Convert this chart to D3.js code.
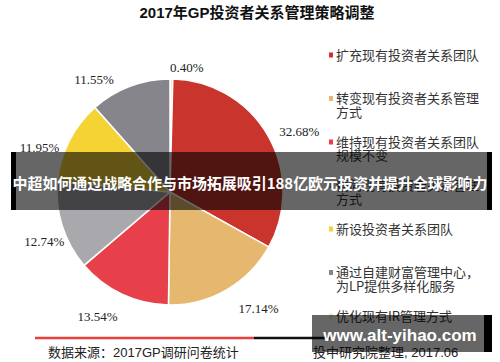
<!DOCTYPE html>
<html>
<head>
<meta charset="utf-8">
<script src="https://cdn.jsdelivr.net/npm/d3@7"></script>
<style>
  body { margin: 0; background: #fff; }
  svg { display: block; }
</style>
</head>
<body>
<div id="chart"></div>
<script>
// GP investor relations strategy pie
// slice order clockwise from 12 o'clock
var categories = [
  "优化现有IR管理方式",
  "扩充现有投资者关系团队",
  "转变现有投资者关系管理方式",
  "维持现有投资者关系团队规模不变",
  "精简现有投资者关系管理方式",
  "新设投资者关系团队",
  "通过自建财富管理中心，为LP提供多样化服务"
];
var values = [0.40, 32.68, 17.14, 13.54, 12.74, 11.95, 11.55];
var colors = ["#f4e8c6", "#c9342c", "#e6b86f", "#e8404a", "#a8a8ad", "#f5d334", "#85858b"];
// legend order (top to bottom)
var legendNames = categories.slice(1).concat(categories[0]);

var titleText = "2017年GP投资者关系管理策略调整";
var sourceLeft = "数据来源：2017GP调研问卷统计";
var sourceRight = "投中研究院整理, 2017.06";
var bannerText = "中超如何通过战略合作与市场拓展吸引188亿欧元投资并提升全球影响力";
var watermarkText = "www.alt-yihao.com";

(function () {
var width = 500,
    height = 362,
    cx = 170,
    cy = 192,
    radius = 113;

// small hand nudges for the percentage labels (same order as values)
var labelNudge = [[15, 10], [12, 6], [21, 0], [-15, 2], [3, 9], [-10, 17], [-28, 14]];

var svg = d3.select("#chart").append("svg")
    .attr("width", width)
    .attr("height", height);

svg.append("text")
    .attr("x", 257)
    .attr("y", 17.5)
    .attr("text-anchor", "middle")
    .style("font-family", "'Liberation Sans', 'Noto Sans CJK SC', sans-serif")
    .style("font-weight", "bold")
    .style("font-size", "15px")
    .style("fill", "#111")
    .text(titleText);

var pie = d3.pie()
    .sort(null)
    .value(function(d) { return d; });

var arc = d3.arc()
    .innerRadius(0)
    .outerRadius(radius);

var labelArc = d3.arc()
    .innerRadius(135)
    .outerRadius(135);

var color = d3.scaleOrdinal()
    .domain(categories)
    .range(colors);

var arcs = pie(values);

var g = svg.append("g")
    .attr("transform", "translate(" + cx + "," + cy + ")");

g.selectAll("path")
    .data(arcs)
  .enter().append("path")
    .attr("d", arc)
    .attr("fill", function(d, i) { return color(categories[i]); })
    .attr("stroke", "#fff")
    .attr("stroke-width", 1.5);

g.selectAll("text.pct")
    .data(arcs)
  .enter().append("text")
    .attr("class", "pct")
    .attr("transform", function(d, i) {
      var c = labelArc.centroid(d);
      return "translate(" + (c[0] + labelNudge[i][0]) + "," + (c[1] + labelNudge[i][1]) + ")";
    })
    .attr("text-anchor", "middle")
    .attr("dy", "0.35em")
    .style("font-family", "'Liberation Serif', serif")
    .style("font-size", "13px")
    .style("fill", "#222")
    .text(function(d) { return d.data.toFixed(2) + "%"; });

// legend
var ly = d3.scalePoint()
    .domain(legendNames)
    .range([55, 316]);

var legend = svg.append("g");

var item = legend.selectAll("g")
    .data(legendNames)
  .enter().append("g")
    .attr("transform", function(d) { return "translate(329," + ly(d) + ")"; });

item.append("rect")
    .attr("x", 0)
    .attr("y", -2.5)
    .attr("width", 4)
    .attr("height", 5)
    .attr("fill", function(d) { return color(d); });

item.append("text")
    .attr("x", 7)
    .style("font-family", "'Noto Sans CJK SC', sans-serif")
    .style("font-size", "13px")
    .style("fill", "#333")
    .each(function(d) {
      var lines = [d.slice(0, 11), d.slice(11)].filter(function(s) { return s.length; });
      d3.select(this).selectAll("tspan")
          .data(lines)
        .enter().append("tspan")
          .attr("x", 7)
          .attr("y", function(s, j) { return j * 13.5; })
          .attr("dy", "0.36em")
          .text(function(s) { return s; });
    });

// source line + notes
svg.append("line")
    .attr("x1", 35).attr("x2", 254)
    .attr("y1", 338).attr("y2", 338)
    .attr("stroke", "#e8413c")
    .attr("stroke-width", 2.5);

svg.append("line")
    .attr("x1", 254).attr("x2", 330)
    .attr("y1", 338).attr("y2", 338)
    .attr("stroke", "#111")
    .attr("stroke-width", 2.5);

svg.append("text")
    .attr("x", 48)
    .attr("y", 357)
    .style("font-family", "'Liberation Sans', 'Noto Sans CJK SC', sans-serif")
    .style("font-size", "13px")
    .style("fill", "#222")
    .text(sourceLeft);

svg.append("text")
    .attr("x", 313)
    .attr("y", 357)
    .style("font-family", "'Liberation Sans', 'Noto Sans CJK SC', sans-serif")
    .style("font-size", "13px")
    .style("fill", "#222")
    .text(sourceRight);

// overlay banner
var banner = svg.append("g");
banner.append("rect")
    .attr("x", 11).attr("y", 152)
    .attr("width", 481).attr("height", 58)
    .attr("fill", "#000")
    .attr("fill-opacity", 0.6);
banner.append("rect")
    .attr("x", 11).attr("y", 152)
    .attr("width", 5).attr("height", 58)
    .attr("fill", "#000");
banner.append("rect")
    .attr("x", 487).attr("y", 152)
    .attr("width", 5).attr("height", 58)
    .attr("fill", "#000");
banner.append("text")
    .attr("x", 250)
    .attr("y", 188.5)
    .attr("text-anchor", "middle")
    .attr("textLength", 475)
    .attr("lengthAdjust", "spacingAndGlyphs")
    .style("font-family", "'Noto Sans CJK SC', sans-serif")
    .style("font-weight", "bold")
    .style("font-size", "15px")
    .style("fill", "#fff")
    .text(bannerText);

// watermark box
var wm = svg.append("g");
wm.append("rect")
    .attr("x", 312).attr("y", 315)
    .attr("width", 180).attr("height", 37)
    .attr("fill", "#000")
    .attr("fill-opacity", 0.6);
wm.append("rect")
    .attr("x", 484).attr("y", 315)
    .attr("width", 8).attr("height", 37)
    .attr("fill", "#000");
wm.append("text")
    .attr("x", 400)
    .attr("y", 341)
    .attr("text-anchor", "middle")
    .style("font-family", "'Liberation Sans', sans-serif")
    .style("font-weight", "bold")
    .style("font-size", "17px")
    .style("fill", "#fff")
    .text(watermarkText);

})(this);
</script>
</body>
</html>
